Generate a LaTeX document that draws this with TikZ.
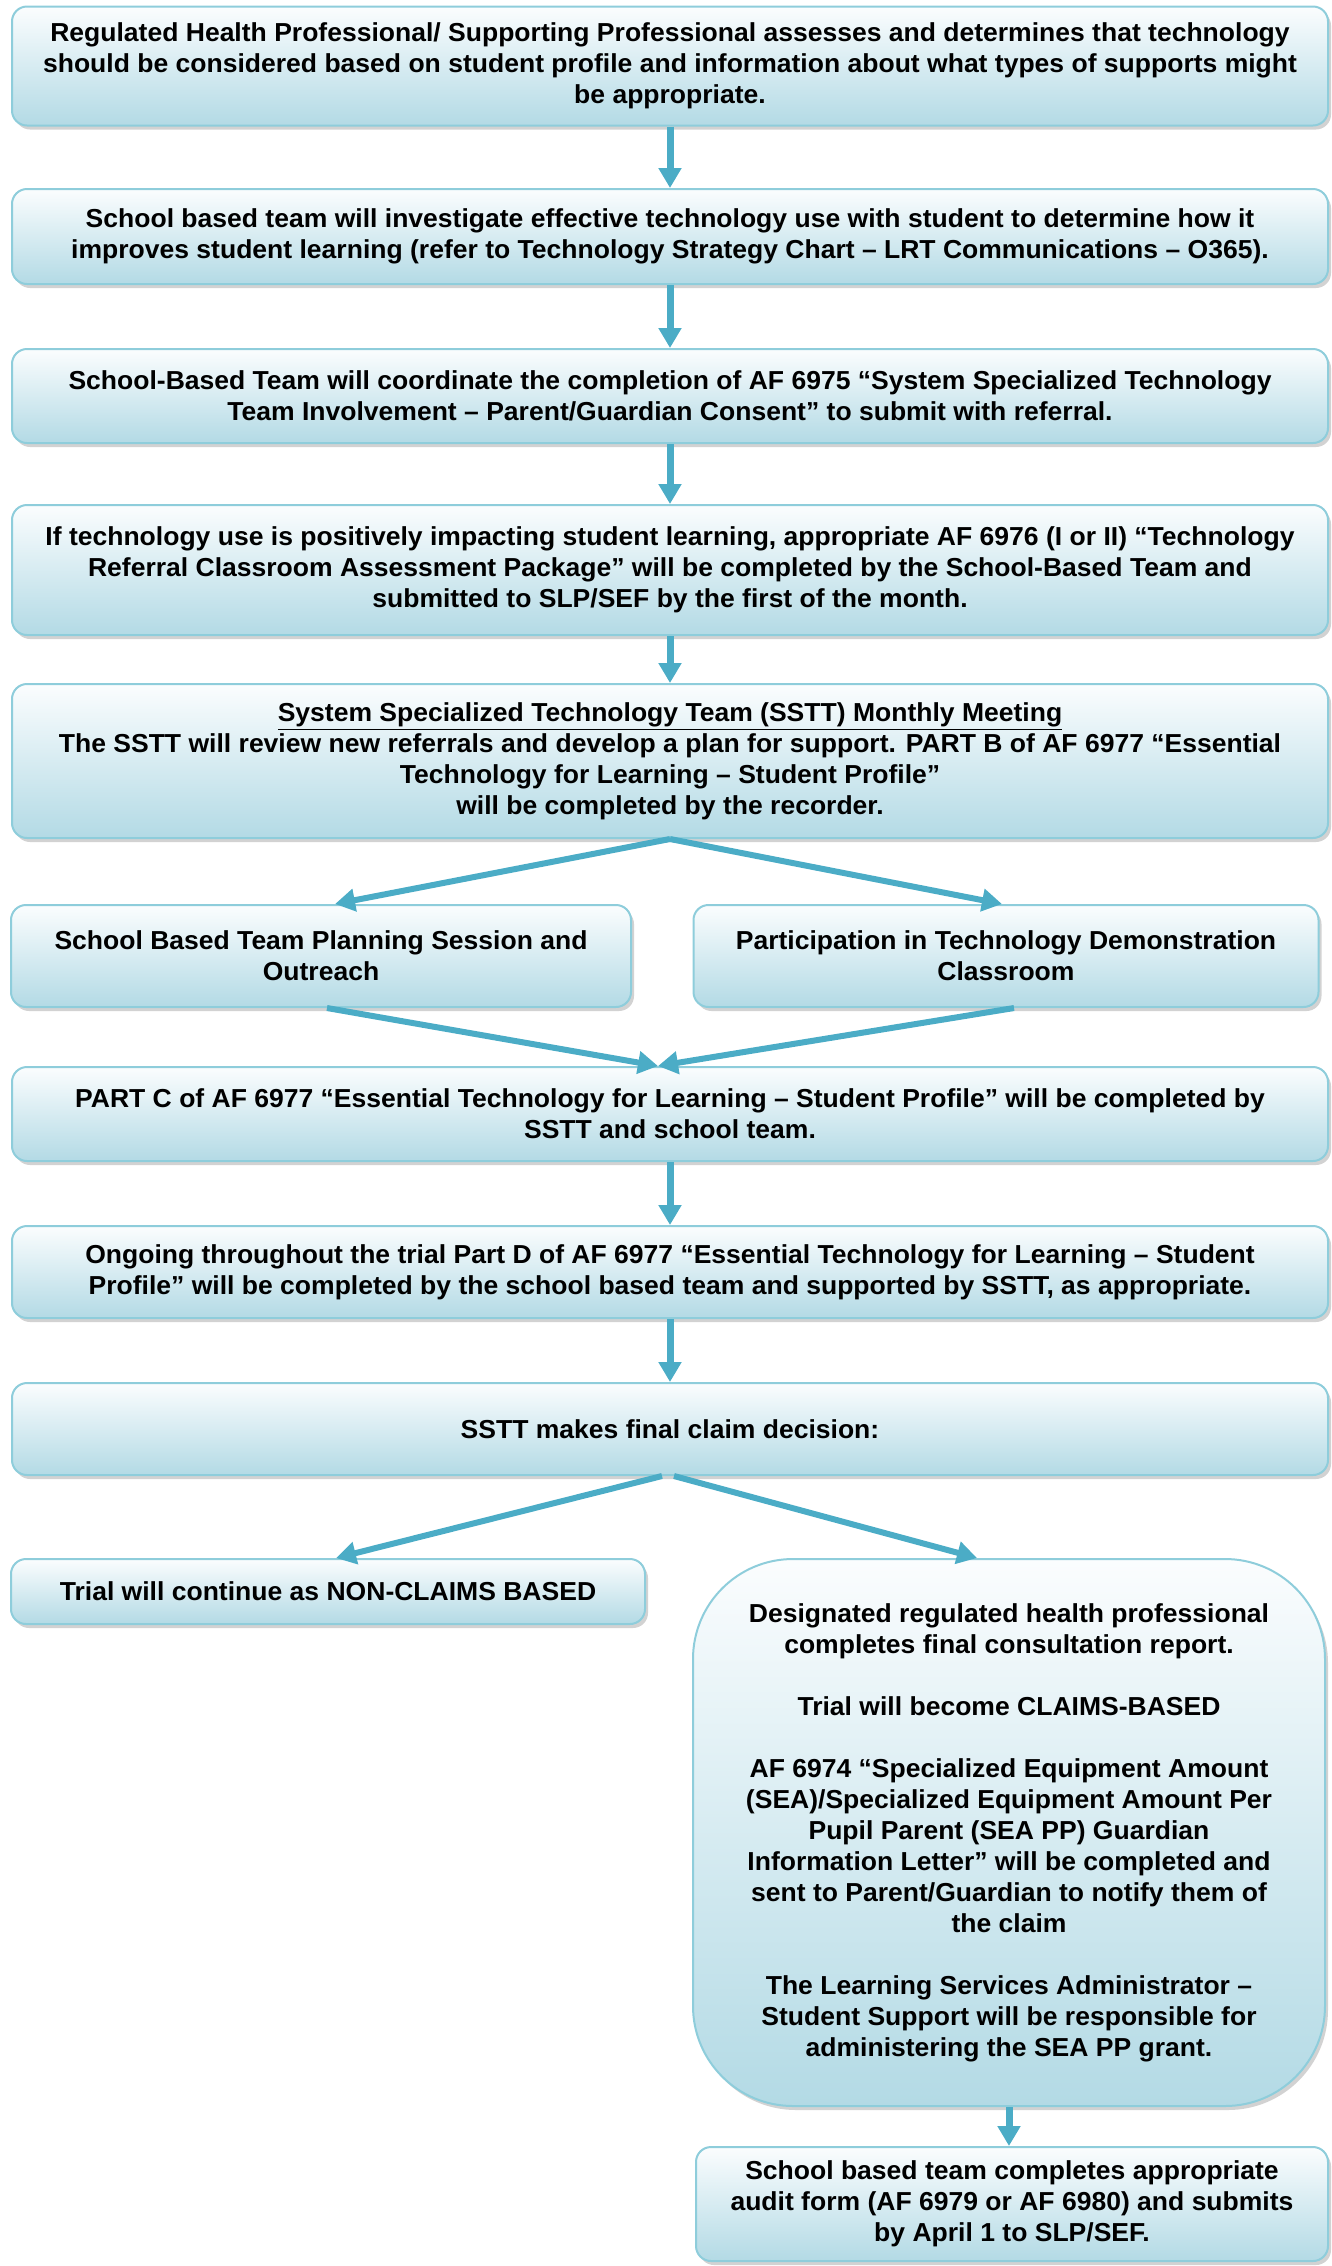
\documentclass[tikz,border=0pt]{standalone}
\usepackage{fontspec}
\setmainfont{Liberation Sans}[FakeStretch=1.02]
\usepackage{tikz}
\usetikzlibrary{arrows.meta,shadows}
\usepackage{xcolor}
\definecolor{ArrowBlue}{HTML}{4BACC6}
\definecolor{BoxLine}{HTML}{8ECDDB}
\definecolor{BoxTop}{HTML}{FBFDFE}
\definecolor{BoxBottom}{HTML}{B3DAE5}

\begin{document}
\begin{tikzpicture}[x=0.5pt,y=-0.5pt,
    stepbox/.style={draw=BoxLine, line width=1pt, rounded corners=7.5pt,
        top color=BoxTop, bottom color=BoxBottom, inner sep=0pt, align=center,
        drop shadow={shadow xshift=1.5pt, shadow yshift=-2pt, fill=black!35},
        font=\fontsize{13}{15.5}\selectfont\bfseries},
    flowarrow/.style={ArrowBlue, line width=3.5pt, -{Triangle[width=11pt,length=10pt]}},
    sidearrow/.style={ArrowBlue, line width=3pt, -{Triangle[width=11pt,length=10pt]}}]
    \useasboundingbox (0,0) rectangle (1332,2266);

    \node[stepbox, minimum width=658pt, minimum height=59.5pt] (assess) at (670,66)
        {Regulated Health Professional/ Supporting Professional assesses and determines that technology\\
         should be considered based on student profile and information about what types of supports might\\
         be appropriate.};
    \node[stepbox, minimum width=658pt, minimum height=47.5pt] (investigate) at (670,236.5)
        {School based team will investigate effective technology use with student to determine how it\\
         improves student learning (refer to Technology Strategy Chart – LRT Communications – O365).};
    \node[stepbox, minimum width=658pt, minimum height=47pt] (consent) at (670,396)
        {School-Based Team will coordinate the completion of AF 6975 “System Specialized Technology\\
         Team Involvement – Parent/Guardian Consent” to submit with referral.};
    \node[stepbox, minimum width=658pt, minimum height=65pt] (referral) at (670,570)
        {If technology use is positively impacting student learning, appropriate AF 6976 (I or II) “Technology\\
         Referral Classroom Assessment Package” will be completed by the School-Based Team and\\
         submitted to SLP/SEF by the first of the month.};
    \node[stepbox, minimum width=658pt, minimum height=77pt] (meeting) at (670,761)
        {\underline{System Specialized Technology Team (SSTT) Monthly Meeting}\\
         The SSTT will review new referrals and develop a plan for support. PART B of AF 6977 “Essential\\
         Technology for Learning – Student Profile”\\
         will be completed by the recorder.};
    \node[stepbox, minimum width=310pt, minimum height=51pt] (planning) at (321,956)
        {School Based Team Planning Session and\\ Outreach};
    \node[stepbox, minimum width=312.5pt, minimum height=51pt] (demo) at (1006,956)
        {Participation in Technology Demonstration\\ Classroom};
    \node[stepbox, minimum width=658pt, minimum height=47pt] (partc) at (670,1114)
        {PART C of AF 6977 “Essential Technology for Learning – Student Profile” will be completed by\\
         SSTT and school team.};
    \node[stepbox, minimum width=658pt, minimum height=46pt] (partd) at (670,1272)
        {Ongoing throughout the trial Part D of AF 6977 “Essential Technology for Learning – Student\\
         Profile” will be completed by the school based team and supported by SSTT, as appropriate.};
    \node[stepbox, minimum width=658pt, minimum height=46pt] (decision) at (670,1429)
        {SSTT makes final claim decision:};
    \node[stepbox, minimum width=317pt, minimum height=32.5pt] (nonclaims) at (328,1591.5)
        {Trial will continue as NON-CLAIMS BASED};
    \node[stepbox, rounded corners=50pt, minimum width=316pt, minimum height=273.5pt] (claims) at (1009,1832.5)
        {Designated regulated health professional\\
         completes final consultation report.\\[15.5pt]
         Trial will become CLAIMS-BASED\\[15.5pt]
         AF 6974 “Specialized Equipment Amount\\
         (SEA)/Specialized Equipment Amount Per\\
         Pupil Parent (SEA PP) Guardian\\
         Information Letter” will be completed and\\
         sent to Parent/Guardian to notify them of\\
         the claim\\[15.5pt]
         The Learning Services Administrator –\\
         Student Support will be responsible for\\
         administering the SEA PP grant.};
    \node[stepbox, minimum width=316pt, minimum height=57pt] (audit) at (1012,2204)
        {School based team completes appropriate\\
         audit form (AF 6979 or AF 6980) and submits\\
         by April 1 to SLP/SEF.};

    \draw[flowarrow] (assess) -- (investigate);
    \draw[flowarrow] (investigate) -- (consent);
    \draw[flowarrow] (consent) -- (referral);
    \draw[flowarrow] (referral) -- (meeting);
    \draw[sidearrow] (meeting.south) -- ([xshift=7pt]planning.north);
    \draw[sidearrow] (meeting.south) -- ([xshift=-2pt]demo.north);
    \draw[sidearrow] ([xshift=3pt]planning.south) -- ([xshift=-6pt]partc.north);
    \draw[sidearrow] ([xshift=4pt]demo.south) -- ([xshift=-6pt]partc.north);
    \draw[flowarrow] (partc) -- (partd);
    \draw[flowarrow] (partd) -- (decision);
    \draw[sidearrow] ([xshift=-4pt]decision.south) -- ([xshift=4pt]nonclaims.north);
    \draw[sidearrow] ([xshift=2pt]decision.south) -- ([xshift=-16pt]claims.north);
    \draw[flowarrow] (claims.south) -- (claims.south |- audit.north);
\end{tikzpicture}
\end{document}
